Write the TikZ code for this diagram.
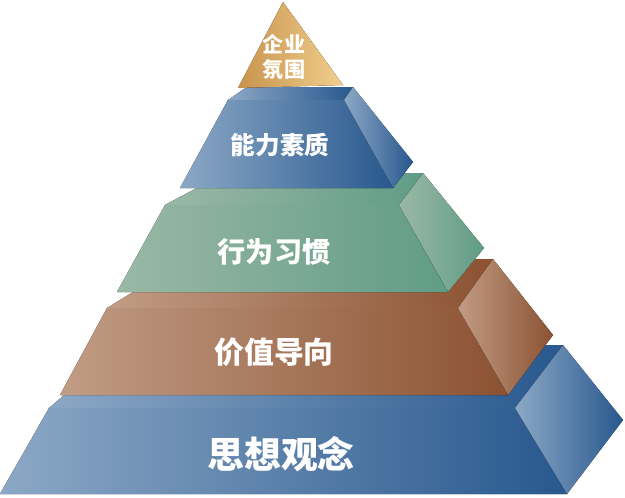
\documentclass[tikz,border=0pt]{standalone}
\usepackage{fontspec}
\newfontfamily\cjk{Noto Sans CJK SC}
\usepackage{xcolor}
\definecolor{bluelt}{RGB}{140,168,198}
\definecolor{bluedk}{RGB}{40,88,142}
\definecolor{greenlt}{RGB}{154,184,166}
\definecolor{greendk}{RGB}{96,156,134}
\definecolor{brownlt}{RGB}{193,156,132}
\definecolor{browndk}{RGB}{140,82,50}
\definecolor{goldlt}{RGB}{241,206,142}
\definecolor{golddk}{RGB}{200,148,76}

\begin{document}
\begin{tikzpicture}[
    x=0.02cm, y=-0.02cm,
    lbl/.style={text=white, inner sep=0pt, align=center,
                font=\cjk\bfseries\fontsize{#1}{14}\selectfont},
    blu/.style={left color=bluelt, right color=bluedk},
    grn/.style={left color=greenlt, right color=greendk},
    brn/.style={left color=brownlt, right color=browndk},
    gld/.style={left color=golddk, right color=goldlt}
]
\useasboundingbox (0,0) rectangle (625,497);

% base: 思想观念
\fill[blu] (49,408) -- (123,345) -- (563,345) -- (515,408) -- cycle;
\fill[blu] (49,408) -- (515,408) -- (567,494) -- (0,494) -- cycle;
\fill[blu] (515,408) -- (563,345) -- (623,420) -- (567,494) -- cycle;

% 价值导向
\fill[brn] (107,308) -- (187,259) -- (493,259) -- (458,308) -- cycle;
\fill[brn] (107,308) -- (458,308) -- (508,395) -- (60,395) -- cycle;
\fill[brn] (458,308) -- (493,259) -- (553,335) -- (508,395) -- cycle;

% 行为习惯
\fill[grn] (165,205) -- (225,173) -- (423,173) -- (399,205) -- cycle;
\fill[grn] (165,205) -- (399,205) -- (448,292) -- (117,292) -- cycle;
\fill[grn] (399,205) -- (423,173) -- (484,248) -- (448,292) -- cycle;

% 能力素质
\fill[blu] (228,100) -- (247,87) -- (353,87) -- (344,100) -- cycle;
\fill[blu] (228,100) -- (344,100) -- (393,188) -- (180,188) -- cycle;
\fill[blu] (344,100) -- (353,87) -- (413,162) -- (393,188) -- cycle;

% top
\fill[gld] (283,2) -- (343,85) -- (238,88) -- cycle;

\node[lbl=12] (top) at (284,57) {企业\\氛围};
\node[lbl=14] (lv2) at (280,145) {能力素质};
\node[lbl=16] (lv3) at (274,252) {行为习惯};
\node[lbl=17] (lv4) at (274,352) {价值导向};
\node[lbl=21] (lv5) at (281,454) {思想观念};
\end{tikzpicture}
\end{document}
